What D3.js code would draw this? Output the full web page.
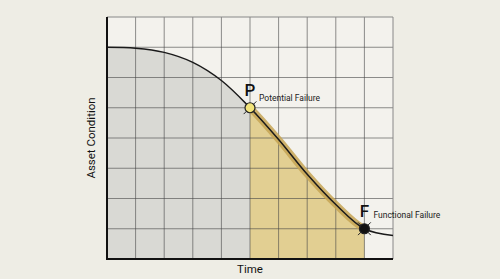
<!DOCTYPE html>
<html>
<head>
<meta charset="utf-8">
<script src="https://cdn.jsdelivr.net/npm/d3@7"></script>
<style>
  body { margin: 0; background: #eeede5; }
  svg { display: block; font-family: Roboto, "Liberation Sans", sans-serif; }
</style>
</head>
<body>
<div id="chart"></div>
<script>
// P-F curve: asset condition over time (grid units)
var timeSteps = [0, 1, 2, 3, 4, 5, 6, 7, 8, 9, 10];
var condition = [7, 6.97, 6.83, 6.5, 5.9, 5, 3.95, 2.8, 1.8, 1, 0.78];
var pointLabels = ["P", "F"];
var pointNames = ["Potential Failure", "Functional Failure"];
var pointTimes = [5, 9];

var width = 500, height = 279;
var margin = {top: 17, right: 107, bottom: 20, left: 107};
var nameOffsets = [-7, -11];

var svg = d3.select("#chart").append("svg")
  .attr("width", width)
  .attr("height", height);

var x = d3.scaleLinear().domain([0, 10]).range([margin.left, width - margin.right]);
var y = d3.scaleLinear().domain([0, 8]).range([height - margin.bottom, margin.top]);

var data = timeSteps.map(function(t, i) { return {t: t, v: condition[i]}; });

// plot background
svg.append("rect")
  .attr("x", x(0)).attr("y", y(8))
  .attr("width", x(10) - x(0)).attr("height", y(0) - y(8))
  .attr("fill", "#f3f2ed");

var curve = d3.curveCatmullRom.alpha(0.5);
var area = d3.area().x(function(d) { return x(d.t); }).y0(y(0)).y1(function(d) { return y(d.v); }).curve(curve);
var line = d3.line().x(function(d) { return x(d.t); }).y(function(d) { return y(d.v); }).curve(curve);

var defs = svg.append("defs");
function clip(id, t0, t1) {
  defs.append("clipPath").attr("id", id).append("rect")
    .attr("x", x(t0)).attr("y", 0)
    .attr("width", x(t1) - x(t0)).attr("height", height);
}
clip("clip-grey", 0, 5);
clip("clip-gold", 5, 9);

svg.append("path").datum(data).attr("d", area)
  .attr("fill", "#d9d9d4").attr("clip-path", "url(#clip-grey)");
svg.append("path").datum(data).attr("d", area)
  .attr("fill", "#e2cf92").attr("clip-path", "url(#clip-gold)");

// grid
var grid = svg.append("g").attr("stroke", "#444").attr("stroke-width", 0.8).attr("stroke-opacity", 0.75);
grid.selectAll(".vx").data(d3.range(1, 10)).enter().append("line")
  .attr("x1", function(d) { return x(d); }).attr("x2", function(d) { return x(d); })
  .attr("y1", y(0)).attr("y2", y(8));
grid.selectAll(".hy").data(d3.range(1, 8)).enter().append("line")
  .attr("x1", x(0)).attr("x2", x(10))
  .attr("y1", function(d) { return y(d); }).attr("y2", function(d) { return y(d); });

// top / right frame (thin)
svg.append("path")
  .attr("d", "M" + x(0) + "," + y(8) + "H" + x(10) + "V" + y(0))
  .attr("fill", "none").attr("stroke", "#888").attr("stroke-width", 1);

// gold band along the degradation section
svg.append("path").datum(data).attr("d", line)
  .attr("fill", "none").attr("stroke", "#c6a453").attr("stroke-width", 7)
  .attr("stroke-opacity", 0.85).attr("clip-path", "url(#clip-gold)");

// curve
svg.append("path").datum(data).attr("d", line)
  .attr("fill", "none").attr("stroke", "#1a1a1a").attr("stroke-width", 1.5);

// axes (left + bottom)
svg.append("path")
  .attr("d", "M" + x(0) + "," + y(8) + "V" + y(0) + "H" + x(10))
  .attr("fill", "none").attr("stroke", "#111").attr("stroke-width", 2);

// P and F markers
var marks = svg.selectAll(".mark").data(pointTimes).enter().append("g")
  .attr("transform", function(t) {
    var v = condition[timeSteps.indexOf(t)];
    return "translate(" + x(t) + "," + y(v) + ")";
  });
marks.selectAll("line").data([45, 135, 225, 315]).enter().append("line")
  .attr("x1", function(a) { return 5 * Math.cos(a * Math.PI / 180); })
  .attr("y1", function(a) { return 5 * Math.sin(a * Math.PI / 180); })
  .attr("x2", function(a) { return 9 * Math.cos(a * Math.PI / 180); })
  .attr("y2", function(a) { return 9 * Math.sin(a * Math.PI / 180); })
  .attr("stroke", "#222").attr("stroke-width", 1);
marks.append("circle").attr("r", 5)
  .attr("fill", function(t, i) { return i === 0 ? "#f2e47a" : "#111"; })
  .attr("stroke", "#222").attr("stroke-width", 1.2);

marks.append("text")
  .attr("x", 0).attr("y", -12)
  .attr("text-anchor", "middle")
  .attr("font-size", 17).attr("font-weight", 500).attr("fill", "#111")
  .text(function(t, i) { return pointLabels[i]; });
marks.append("text")
  .attr("x", 9).attr("y", function(t, i) { return nameOffsets[i]; })
  .attr("font-size", 8.5).attr("fill", "#222")
  .text(function(t, i) { return pointNames[i]; });

// axis titles
svg.append("text")
  .attr("x", x(5)).attr("y", 273)
  .attr("text-anchor", "middle").attr("font-size", 11.5).attr("fill", "#111")
  .text("Time");
svg.append("text")
  .attr("transform", "translate(95," + ((y(0) + y(8)) / 2) + ") rotate(-90)")
  .attr("text-anchor", "middle").attr("font-size", 11.5).attr("fill", "#111")
  .text("Asset Condition");
</script>
</body>
</html>
